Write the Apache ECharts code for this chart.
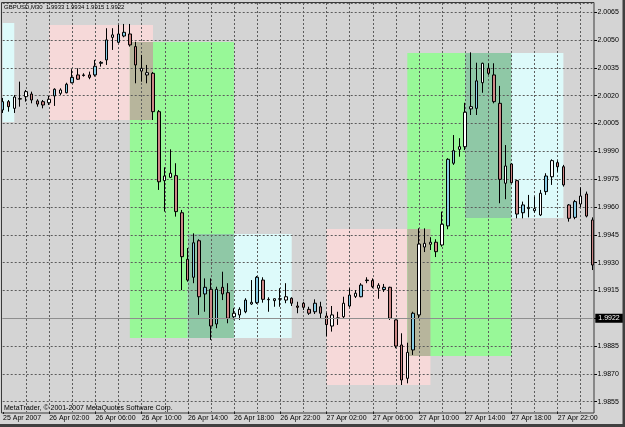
<!DOCTYPE html>
<html><head><meta charset="utf-8">
<script src="https://cdn.jsdelivr.net/npm/echarts@6/dist/echarts.min.js"></script>
<style>html,body{margin:0;padding:0;background:#D4D4D4;}#c{width:625px;height:427px;}</style>
</head><body><div id="c"></div>
<script>
// ---------------- data ----------------
const symbolTitle = 'GBPUSD,M30';
const lastBarOHLC = ['1.9933', '1.9934', '1.9915', '1.9922'];
const bidPrice = 1.9922;
const copyrightText = 'MetaTrader, \u00A9 2001-2007 MetaQuotes Software Corp.';

const opens = [2.00123,2.00168,2.00132,2.00184,2.00195,2.00209,2.00172,2.00168,2.00162,2.00199,
2.00213,2.00216,2.00270,2.00312,2.00309,2.00312,2.00312,2.00375,2.00393,2.00515,
2.00488,2.00522,2.00533,2.00465,2.00333,2.00312,2.00321,2.00114,1.99742,1.99760,
1.99769,1.99569,1.99318,1.99221,1.99418,1.99131,1.99156,1.98969,1.99167,1.99138,
1.99008,1.99018,1.99035,1.99077,1.99084,1.99206,1.99102,1.99095,1.99105,1.99098,
1.99108,1.99066,1.99081,1.99048,1.99035,1.99062,1.99012,1.98958,1.98999,1.99008,
1.99066,1.99118,1.99116,1.99203,1.99203,1.99162,1.99155,1.99167,1.98991,1.98856,
1.98676,1.98829,1.99018,1.99384,1.99399,1.99410,1.99395,1.99498,1.99836,1.99911,
1.99925,2.00129,2.00132,2.00270,2.00348,2.00312,2.00159,1.99728,1.99832,1.99742,
1.99569,1.99591,1.99580,1.99557,1.99683,1.99763,1.99839,1.99817,1.99611,1.99544,
1.99616,1.99670,1.99530];
const highs = [2.00188,2.00177,2.00204,2.00276,2.00231,2.00222,2.00181,2.00177,2.00199,2.00240,
2.00240,2.00270,2.00343,2.00348,2.00321,2.00330,2.00393,2.00387,2.00564,2.00564,
2.00582,2.00587,2.00587,2.00491,2.00420,2.00366,2.00328,2.00123,1.99814,1.99911,
1.99836,1.99584,1.99379,1.99458,1.99426,1.99215,1.99215,1.99170,1.99251,1.99189,
1.99054,1.99059,1.99108,1.99206,1.99228,1.99221,1.99113,1.99108,1.99162,1.99189,
1.99113,1.99089,1.99089,1.99062,1.99102,1.99089,1.99030,1.99066,1.99035,1.99116,
1.99162,1.99152,1.99189,1.99221,1.99215,1.99189,1.99185,1.99170,1.98994,1.98919,
1.98868,1.99035,1.99485,1.99485,1.99437,1.99426,1.99575,1.99863,1.99988,1.99971,
2.00162,2.00434,2.00378,2.00378,2.00375,2.00375,2.00253,1.99934,1.99836,1.99746,
1.99629,1.99665,1.99656,1.99692,1.99782,1.99857,1.99850,1.99827,1.99616,1.99638,
1.99706,1.99683,1.99544];
const lows = [2.00107,2.00114,2.00107,2.00141,2.00168,2.00159,2.00141,2.00132,2.00150,2.00145,
2.00204,2.00213,2.00267,2.00285,2.00303,2.00289,2.00303,2.00357,2.00366,2.00447,
2.00483,2.00515,2.00465,2.00267,2.00276,2.00267,2.00069,1.99692,1.99575,1.99756,
1.99548,1.99152,1.99197,1.99189,1.99018,1.99035,1.98883,1.98946,1.99098,1.98973,
1.98994,1.98991,1.99027,1.99072,1.99077,1.99084,1.99035,1.99062,1.99062,1.99081,
1.99066,1.99027,1.99045,1.99018,1.99023,1.99000,1.98904,1.98928,1.98964,1.99000,
1.99059,1.99109,1.99113,1.99189,1.99162,1.99105,1.99142,1.98991,1.98838,1.98640,
1.98649,1.98802,1.99000,1.99357,1.99368,1.99330,1.99386,1.99480,1.99827,1.99871,
1.99907,2.00096,2.00096,2.00216,2.00312,2.00159,1.99620,1.99642,1.99728,1.99539,
1.99539,1.99544,1.99569,1.99551,1.99665,1.99719,1.99790,1.99710,1.99521,1.99534,
1.99598,1.99544,1.99260];
const closes = [2.00168,2.00141,2.00193,2.00182,2.00222,2.00177,2.00155,2.00150,2.00181,2.00235,
2.00231,2.00262,2.00299,2.00289,2.00312,2.00299,2.00359,2.00380,2.00501,2.00528,
2.00533,2.00542,2.00474,2.00366,2.00348,2.00324,2.00114,1.99736,1.99767,1.99782,
1.99575,1.99332,1.99206,1.99407,1.99116,1.99167,1.98958,1.99156,1.99131,1.99000,
1.99027,1.99048,1.99098,1.99086,1.99221,1.99102,1.99100,1.99105,1.99103,1.99116,
1.99081,1.99059,1.99059,1.99027,1.99081,1.99027,1.98966,1.99018,1.99002,1.99081,
1.99125,1.99135,1.99179,1.99206,1.99170,1.99178,1.99167,1.99000,1.98850,1.98667,
1.98816,1.99027,1.99400,1.99404,1.99410,1.99359,1.99507,1.99857,1.99904,1.99925,
2.00111,2.00141,2.00280,2.00375,2.00321,2.00168,1.99749,1.99821,1.99731,1.99562,
1.99611,1.99598,1.99591,1.99674,1.99767,1.99850,1.99817,1.99719,1.99539,1.99629,
1.99659,1.99551,1.99287];

// x tick labels (bar index -> text)
const xTickBars  = [0, 8, 16, 24, 32, 40, 48, 56, 64, 72, 80, 88, 96];
const xTickTexts = ['25 Apr 2007','26 Apr 02:00','26 Apr 06:00','26 Apr 10:00','26 Apr 14:00',
  '26 Apr 18:00','26 Apr 22:00','27 Apr 02:00','27 Apr 06:00','27 Apr 10:00','27 Apr 14:00',
  '27 Apr 18:00','27 Apr 22:00'];

// rectangles: [fromBar, toBar, topPrice, bottomPrice, kind]
const zones = [
  [0, 2, 2.00592, 2.00058, 'cyan'],
  [8, 26, 2.00582, 2.00069, 'pink'],
  [22, 40, 2.00490, 1.98894, 'green'],
  [32, 50, 1.99454, 1.98894, 'cyan'],
  [56, 74, 1.99481, 1.98640, 'pink'],
  [70, 88, 2.00431, 1.98796, 'green'],
  [80, 97, 2.00431, 1.99541, 'cyan']
];

// ---------------- styles ----------------
const zoneColors = {cyan:'#DDFAFA', pink:'#F6D9D9', green:'#98F898',
  'pink+green':'#B7B59C', 'green+pink':'#B7B59C', 'green+cyan':'#8FC8A6', 'cyan+green':'#8FC8A6'};
const hollowBull = [2,4,8,10,19,24,25,28,29,40,41,43,47,49,57,58,59,61,65,70,72,73,74,76,79,80,81,83,87,91,92,93,95,100];
const bullFill = '#88CBE4', bearFill = '#CC8686';
const gridCol = '#5c5c5c';
const FONT = "'Liberation Sans', Arial, sans-serif";

// categories: M30 bars starting 25 Apr 2007 22:00
const months = ['Jan','Feb','Mar','Apr','May','Jun','Jul','Aug','Sep','Oct','Nov','Dec'];
const cats = [];
for (let i = 0; i < opens.length; i++) {
  const d = new Date(Date.UTC(2007, 3, 25, 22, 0) + i * 1800000);
  const p = n => (n < 10 ? '0' : '') + n;
  cats.push(d.getUTCDate() + ' ' + months[d.getUTCMonth()] + ' ' + p(d.getUTCHours()) + ':' + p(d.getUTCMinutes()));
}
const tickMap = {};
xTickBars.forEach((b, k) => tickMap[b] = xTickTexts[k]);

const candleData = opens.map((o, i) => {
  const item = {value: [o, closes[i], lows[i], highs[i]]};
  if (hollowBull.indexOf(i) >= 0 && closes[i] >= o) item.itemStyle = {color: '#FFFFFF'};
  return item;
});

const areaData = [];
zones.forEach(z => areaData.push([
  {xAxis: cats[z[0]], yAxis: z[2], itemStyle: {color: zoneColors[z[4]], opacity: 1}},
  {xAxis: cats[z[1]], yAxis: z[3]}
]));
for (let i = 0; i < zones.length; i++) for (let j = i + 1; j < zones.length; j++) {
  const a = zones[i], b = zones[j];
  const x0 = Math.max(a[0], b[0]), x1 = Math.min(a[1], b[1]);
  const top = Math.min(a[2], b[2]), bot = Math.max(a[3], b[3]);
  const col = zoneColors[a[4] + '+' + b[4]];
  if (x0 < x1 && bot < top && col) areaData.push([
    {xAxis: cats[x0], yAxis: top, itemStyle: {color: col, opacity: 1}},
    {xAxis: cats[x1], yAxis: bot}
  ]);
}

const chart = echarts.init(document.getElementById('c'), null, {renderer: 'canvas'});
chart.setOption({
  backgroundColor: '#D4D4D4',
  animation: false,
  textStyle: {fontFamily: FONT},
  grid: [
    {left: 2.7, right: 32.7, top: 3, bottom: 15},
    {left: 2.7, right: 32.7, top: 3, bottom: 25.3}
  ],
  xAxis: [
    {gridIndex: 0, type: 'category', data: cats, boundaryGap: false, z: 1.5, offset: 1,
      axisLine: {show: false},
      axisTick: {show: true, length: 2, interval: i => tickMap[i] !== undefined, lineStyle: {color: '#000'}},
      axisLabel: {interval: i => tickMap[i] !== undefined, formatter: (v, i) => tickMap[i] || '',
        align: 'left', margin: 2, fontSize: 7, color: '#000', fontFamily: FONT},
      splitLine: {show: true, interval: i => i % 4 === 0 && i > 0,
        lineStyle: {color: gridCol, type: [2, 2], width: 1}}},
    {gridIndex: 1, type: 'category', data: cats, boundaryGap: false, show: false}
  ],
  yAxis: [
    {gridIndex: 0, type: 'value', min: 0, max: 1, show: false},
    {gridIndex: 1, type: 'value', position: 'right', min: 1.9855, max: 2.0070, interval: 0.0015,
      z: 1.5, offset: 1.7,
      axisLine: {show: false},
      axisTick: {show: true, length: 3, lineStyle: {color: '#000'}},
      axisLabel: {fontSize: 7, color: '#000', margin: 3.5, showMaxLabel: false, fontFamily: FONT,
        formatter: v => v.toFixed(4)},
      splitLine: {show: true, lineStyle: {color: gridCol, type: [2, 2], width: 1}}}
  ],
  graphic: [
    {type: 'rect', z: 20, silent: true, shape: {x: 1.5, y: 2.5, width: 592.5, height: 410.5},
      style: {fill: 'none', stroke: '#3a3a3a', lineWidth: 1}},
    {type: 'rect', z: 20, silent: true, shape: {x: 622.5, y: 0, width: 2.5, height: 427},
      style: {fill: '#404040'}},
    {type: 'rect', z: 20, silent: true, shape: {x: 0, y: 424, width: 625, height: 3},
      style: {fill: '#404040'}},
    {type: 'text', z: 20, silent: true, x: 4, y: 7,
      style: {text: symbolTitle + '  ' + lastBarOHLC.join(' '), fill: '#000', fontSize: 6,
        fontFamily: "'Liberation Sans Narrow', 'Liberation Sans', Arial, sans-serif", verticalAlign: 'middle'}},
    {type: 'text', z: 20, silent: true, x: 4, y: 408,
      style: {text: copyrightText, fill: '#000', fontSize: 7, fontFamily: FONT, verticalAlign: 'middle'}}
  ],
  series: [{
    type: 'candlestick', xAxisIndex: 1, yAxisIndex: 1, z: 3, barWidth: 3,
    data: candleData,
    itemStyle: {color: bullFill, color0: bearFill, borderColor: '#000', borderColor0: '#000', borderWidth: 1},
    markArea: {silent: true, z: 1, data: areaData, label: {show: false}},
    markLine: {silent: true, symbol: ['none', 'none'], animation: false,
      data: [{yAxis: bidPrice}],
      lineStyle: {color: '#8e8e8e', type: 'solid', width: 1},
      label: {show: true, position: 'end', distance: 3, formatter: bidPrice.toFixed(4),
        color: '#fff', backgroundColor: '#000', padding: [1, 4, 1, 3], fontSize: 7, fontFamily: FONT},
      emphasis: {disabled: true}}
  }]
});
</script></body></html>
